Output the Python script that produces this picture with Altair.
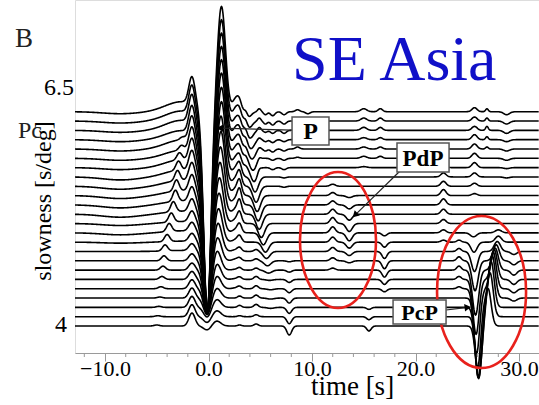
import numpy as np
import pandas as pd
import altair as alt

# Beam slowness of each trace in the vespagram, top to bottom [s/deg]
SLOWNESS = [6.3, 6.2, 6.1, 6.0, 5.9, 5.8, 5.7, 5.6, 5.5, 5.4, 5.3, 5.2,
            5.1, 5.0, 4.9, 4.8, 4.7, 4.6, 4.5, 4.4, 4.3, 4.2, 4.1, 4.0]

# Time window of the section [s]
T_MIN, T_MAX = -12.9, 31.93
# Amplitude of one count in slowness units (trace gain)
GAIN = 0.01073

# Arrivals picked on each beam: centre time [s], half-width [s], amplitude per trace (counts)
PHASES = [
    # long-period sag before the onset
    {"t": -8.5, "w": 2.5, "amp": [-2, -2, -2, -2, -2, -2, -2, -3, -3, -3, -3, -3, -2, -2, -1, 0, 0, 0, 0, 0, 0, 0, 0, 0]},
    # emergent rise ahead of P
    {"t": -2.6, "w": 2.2, "amp": [10, 10, 10, 9, 9, 8, 8, 7, 6, 5, 4, 3, 2, 2, 1, 1, 0, 0, 0, 0, 0, 0, 0, 0]},
    # precursor with moveout
    {"t": [-1.9, -2.0, -2.1, -2.3, -2.5, -2.6, -2.8, -2.9, -3.0, -3.1, -3.2, -3.4,
           -3.6, -3.8, -4.0, -4.2, -4.3, -4.4, -4.5, -4.6, -4.7, -4.8, -4.9, -5.0],
     "w": 0.35, "amp": [0, 0, 0, 0, 3, 5, 7, 9, 10, 11, 11, 10, 9, 8, 7, 6, 5, 4, 3, 2, 1, 1, 1, 1]},
    # P: first swing
    {"t": -1.6, "w": 0.42, "amp": [27, 28, 28, 27, 26, 25, 23, 21, 19, 17, 15, 13, 11, 9, 8, 7, 7, 7, 8, 9, 10, 11, 12, 13]},
    # P: trough
    {"t": -0.12, "w": 0.5, "amp": [-203, -194, -185, -175, -166, -157, -147, -138, -129, -119, -110, -101,
                                   -92, -82, -73, -64, -54, -45, -36, -26, -17, -10, -6, -4]},
    # P: main peak
    {"t": [1.25, 1.25, 1.25, 1.25, 1.25, 1.25, 1.25, 1.25, 1.2, 1.2, 1.15, 1.1,
           1.05, 1.0, 0.95, 0.9, 0.85, 0.8, 0.8, 0.8, 0.8, 0.8, 0.8, 0.8],
     "w": 0.55, "amp": [105, 101, 97, 93, 89, 85, 80, 75, 70, 64, 58, 52, 46, 40, 34, 29, 24, 20, 16, 13, 10, 8, 6, 5]},
    # P coda
    {"t": 2.7, "w": 0.5, "amp": [14, 14, 13, 13, 12, 12, 11, 10, 9, 8, 7, 6, 5, 4, 3, 2, 2, 1, 1, 1, 0, 0, 0, 0]},
    {"t": 3.0, "w": 0.28, "amp": [4, 4, 4, 4, 5, 5, 6, 8, 10, 11, 12, 11, 9, 7, 5, 3, 2, 2, 2, 2, 2, 2, 1, 1]},
    {"t": 3.6, "w": 0.25, "amp": [5, 5, 4, 4, 3, 3, 2, 0, 0, 0, 0, 0, 0, 0, 0, 0, 0, 0, 0, 0, 0, 0, 0, 0]},
    {"t": [3.8, 3.9, 4.0, 4.1, 4.2, 4.3, 4.4, 4.5, 4.6, 4.7, 4.8, 4.9,
           5.1, 5.3, 5.5, 5.6, 5.7, 5.8, 5.9, 6.0, 6.0, 6.0, 6.0, 6.0],
     "w": 0.45, "amp": [-6, -7, -8, -9, -10, -12, -14, -15, -16, -16, -16, -15, -14, -12, -10, -7, -5, -3, -1, -1, -1, -1, 0, 0]},
    {"t": 4.6, "w": 0.3, "amp": [0, 0, 0, 0, 0, 0, 0, 0, 0, 0, 0, 0, 0, 0, 0, 2, 2, 2, 3, 3, 3, 3, 2, 2]},
    {"t": 4.9, "w": 0.22, "amp": [3, 3, 3, 2, 2, 2, 2, 0, 0, 0, 0, 0, 0, 0, 0, 0, 0, 0, 0, 0, 0, 0, 0, 0]},
    {"t": 5.5, "w": 0.25, "amp": [-3, -3, -2, -2, -2, 0, 0, 0, 0, 0, 0, 0, 0, 0, 0, 0, 0, 0, 0, 0, 0, 0, 0, 0]},
    {"t": 6.2, "w": 0.3, "amp": [-4, -4, -3, -3, -3, -2, -2, 0, 0, 0, 0, 0, 0, 0, 0, 0, 0, 0, 0, 0, 0, 0, 0, 0]},
    {"t": 7.3, "w": 0.3, "amp": [-3, -3, -3, -2, -2, -2, -2, -1, -1, 0, 0, 0, 0, 0, 0, 0, 0, 0, 0, 0, 0, 0, 0, 0]},
    {"t": 7.8, "w": 0.33, "amp": [0, 0, 0, 0, 0, 0, 0, 0, 0, 0, 0, 0, 0, 0, 0, 0, -1, -2, -3, -4, -5, -6, -7, -9]},
    {"t": 8.6, "w": 0.3, "amp": [2, 2, 2, 2, 2, 1, 0, 0, 0, 0, 0, 0, 0, 0, 0, 0, 0, 0, 0, 0, 0, 0, 0, 0]},
    {"t": 9.6, "w": 0.3, "amp": [-2, -2, -2, -1, 0, 0, 0, 0, 0, 0, 0, 0, 0, 0, 0, 0, 0, 0, 0, 0, 0, 0, 0, 0]},
    # PdP
    {"t": 12.0, "w": 0.35, "amp": [0, 0, 0, 0, 0, 0, 0, 0, 2, 3, 4, 5, 6, 6, 5, 4, 3, 2, 0, 0, 0, 0, 0, 0]},
    {"t": 13.6, "w": 0.4, "amp": [0, 0, 0, 0, 0, 0, 0, 0, 0, -2, -4, -6, -8, -8, -6, -4, -2, 0, 0, 0, 0, 0, 0, 0]},
    {"t": 15.0, "w": 0.4, "amp": [3, 3, 3, 2, 2, 2, 1, 0, 0, 0, 0, 0, 0, 0, 0, 0, 0, 0, 0, 0, 0, 0, 0, 0]},
    {"t": 15.5, "w": 0.3, "amp": [0, 0, 0, 0, 0, 0, 0, 0, 0, 0, 0, 0, 0, 0, 0, 0, 0, 0, 0, 0, 0, -2, -3, -5]},
    {"t": 16.6, "w": 0.3, "amp": [3, 3, 3, 2, 2, 2, 0, 0, 0, 0, 0, 0, 0, 0, 0, 0, 0, 0, 0, 0, 0, 0, 0, 0]},
    {"t": 17.0, "w": 0.33, "amp": [0, 0, 0, 0, 0, 0, 0, 0, 0, 0, 0, 0, 0, -3, -5, -7, -8, -7, -5, -3, 0, 0, 0, 0]},
    {"t": 22.7, "w": 0.35, "amp": [0, 0, 0, 0, 0, 2, 3, 4, 5, 6, 6, 5, 4, 3, 2, 0, 0, 0, 0, 0, 0, 0, 0, 0]},
    {"t": 24.2, "w": 0.3, "amp": [0, 0, 0, 0, 0, 0, 0, 0, 0, 0, 0, 0, 0, 0, 2, 3, 4, 4, 3, 2, 0, 0, 0, 0]},
    {"t": 25.7, "w": 0.35, "amp": [4, 4, 4, 5, 5, 5, 5, 4, 3, 2, 0, 0, 0, 0, 0, 0, 0, 0, 0, 0, 0, 0, 0, 0]},
    {"t": 26.9, "w": 0.18, "amp": [3, 3, 4, 3, 2, 0, 0, 0, 0, 0, 0, 0, 0, 0, 0, 0, 0, 0, 0, 0, 0, 0, 0, 0]},
    {"t": 28.8, "w": 0.4, "amp": [-3, -3, -3, -2, -2, -2, -1, -1, 0, 0, 0, 0, 0, 0, 0, 0, 0, 0, 0, 0, 0, 0, 0, 0]},
    # PcP
    {"t": [25.6, 25.6, 25.6, 25.6, 25.6, 25.6, 25.6, 25.6, 25.6, 25.6, 25.6, 25.6,
           25.6, 25.6, 25.65, 25.7, 25.75, 25.8, 25.85, 25.9, 26.0, 26.05, 26.1, 26.1],
     "w": 0.42, "amp": [0, 0, 0, 0, 0, 0, 0, 0, 0, 0, 0, 0, 0, -4, -10, -20, -30, -45, -55, -65, -70, -70, -62, -52]},
    {"t": [28.0, 28.0, 28.0, 28.0, 28.0, 28.0, 28.0, 28.0, 28.0, 28.0, 28.0, 28.0,
           28.0, 28.0, 28.0, 27.9, 27.8, 27.7, 27.6, 27.5, 27.4, 27.3, 27.2, 27.0],
     "w": 0.42, "amp": [0, 0, 0, 0, 0, 0, 0, 0, 0, 0, 0, 0, 0, 3, 6, 10, 16, 22, 30, 37, 43, 46, 44, 38]},
    {"t": 29.5, "w": 0.4, "amp": [0, 0, 0, 0, 0, 0, 0, 0, 0, 0, 0, 0, 0, 0, 0, -3, -4, -5, -5, -4, -3, 0, 0, 0]},
]

# Labelled and minor tick values of the time axis [s]
TIME_MAJOR = [-10, 0, 10, 20, 30]
TIME_MINOR = [-12, -8, -6, -4, -2, 2, 4, 6, 8, 12, 14, 16, 18, 22, 24, 26, 28]

# Phase labels with their boxes and arrows (time [s], slowness [s/deg])
LABELS = pd.DataFrame({
    "name": ["P", "PdP", "PcP"],
    "t": [9.86, 20.72, 20.39], "s": [6.093, 5.808, 4.150],
    "t0": [8.07, 18.21, 17.83], "t1": [11.64, 23.24, 22.95],
    "s0": [5.943, 5.653, 4.021], "s1": [6.243, 5.964, 4.279],
    "size": [24, 23, 22],
})
ARROWS = pd.DataFrame({
    "t_from": [8.07, 18.6, 22.95], "s_from": [6.103, 5.674, 4.172],
    "t_to": [1.1, 14.15, 25.05], "s_to": [6.124, 5.19, 4.2],
    "ang": [271.5, 225.6, 82.9],
})
CIRCLED = {"PdP": (12.51, 4.923), "PcP": (26.38, 4.365)}

# Build the traces
time = np.arange(T_MIN, T_MAX + 1e-9, 0.05)
frames = []
for k, s in enumerate(SLOWNESS):
    trace = np.zeros_like(time)
    for ph in PHASES:
        a = ph["amp"][k]
        if a == 0:
            continue
        t0 = ph["t"][k] if isinstance(ph["t"], list) else ph["t"]
        trace += a * np.exp(-((time - t0) / ph["w"]) ** 2)
    frames.append(pd.DataFrame({"time": time, "value": s + GAIN * trace, "trace": k}))
traces = pd.concat(frames, ignore_index=True)

SERIF = "Liberation Serif"
AXIS_GREY = "#9a9a9a"
xs = alt.Scale(domain=[T_MIN, T_MAX], nice=False, zero=False)
ys = alt.Scale(domain=[3.7102, 7.499], nice=False, zero=False)

x_axis = alt.Axis(
    values=TIME_MAJOR, format=".1f",
    labelOverlap=False, labelFlush=False, grid=False,
    tickSize=8, tickColor=AXIS_GREY, domainColor=AXIS_GREY,
    labelFont=SERIF, labelFontSize=22, labelColor="black", labelPadding=-3,
    title="time [s]", titleFont=SERIF, titleFontSize=27, titleFontWeight="normal",
    titleColor="black", titleX=277, titleY=41, titleAlign="center",
    titleBaseline="alphabetic",
)

lines = alt.Chart(traces).mark_line(color="black", strokeWidth=1.6, strokeJoin="round").encode(
    x=alt.X("time:Q", scale=xs, axis=x_axis),
    y=alt.Y("value:Q", scale=ys, axis=None),
    detail="trace:N",
)

minor = alt.Chart(pd.DataFrame({"t": TIME_MINOR})).mark_rule(color=AXIS_GREY, strokeWidth=1).encode(
    x=alt.X("t:Q", scale=xs), y=alt.value(353), y2=alt.value(357)
)

def ellipse(name, rx, ry):
    t, s = CIRCLED[name]
    r = rx / ry
    path = f"M {-r} 0 A {r} 1 0 1 1 {r} 0 A {r} 1 0 1 1 {-r} 0 Z"
    return alt.Chart(pd.DataFrame({"t": [t], "s": [s]})).mark_point(
        shape=path, size=(2 * ry) ** 2, filled=False, color="#e8211c", strokeWidth=2.6, opacity=1
    ).encode(x=alt.X("t:Q", scale=xs), y=alt.Y("s:Q", scale=ys, axis=None))

ell1 = ellipse("PdP", 38, 68)
ell2 = ellipse("PcP", 44.5, 76)

arrow_lines = alt.Chart(ARROWS).mark_rule(color="#222", strokeWidth=1.2).encode(
    x=alt.X("t_from:Q", scale=xs), y=alt.Y("s_from:Q", scale=ys, axis=None),
    x2="t_to:Q", y2="s_to:Q",
)
arrow_heads = alt.Chart(ARROWS).mark_point(shape="triangle-up", filled=True, color="black", size=55, opacity=1).encode(
    x=alt.X("t_to:Q", scale=xs), y=alt.Y("s_to:Q", scale=ys, axis=None),
    angle=alt.Angle("ang:Q", scale=None),
)

boxes = alt.Chart(LABELS).mark_rect(fill="white", stroke="#555", strokeWidth=1.5).encode(
    x=alt.X("t0:Q", scale=xs), x2="t1:Q",
    y=alt.Y("s0:Q", scale=ys, axis=None), y2="s1:Q",
)
box_text = alt.Chart(LABELS).mark_text(font=SERIF, fontWeight="bold", color="black", baseline="middle", dy=1).encode(
    x=alt.X("t:Q", scale=xs), y=alt.Y("s:Q", scale=ys, axis=None),
    text="name:N", size=alt.Size("size:Q", scale=None),
)

region = alt.Chart(pd.DataFrame({"t": [8.07], "s": [6.64], "txt": ["SE Asia"]})).mark_text(
    font=SERIF, fontSize=64, color="#1010c8", align="left", baseline="alphabetic"
).encode(x=alt.X("t:Q", scale=xs), y=alt.Y("s:Q", scale=ys, axis=None), text="txt:N")

# Slowness range labels at the ends of the section
slow_hi = alt.Chart(pd.DataFrame({"s": [6.5], "txt": ["6.5"]})).mark_text(
    font=SERIF, fontSize=24, color="black", align="right", baseline="middle", dy=-5
).encode(x=alt.value(-1), y=alt.Y("s:Q", scale=ys, axis=None), text="txt:N")
slow_lo = alt.Chart(pd.DataFrame({"s": [4.0], "txt": ["4"]})).mark_text(
    font=SERIF, fontSize=24, color="black", align="right", baseline="middle", dy=-1
).encode(x=alt.value(-8), y=alt.Y("s:Q", scale=ys, axis=None), text="txt:N")

y_title = alt.Chart(pd.DataFrame({"txt": ["slowness [s/deg]"]})).mark_text(
    font=SERIF, fontSize=24, color="black", angle=270, align="center", baseline="middle"
).encode(x=alt.value(-31), y=alt.value(201), text="txt:N")

panel = alt.Chart(pd.DataFrame({"txt": ["B", "Pc"], "px": [-60, -57], "py": [47, 138], "fs": [27, 24]})).mark_text(
    font=SERIF, color="#222", align="left", baseline="alphabetic"
).encode(x=alt.X("px:Q", scale=None), y=alt.Y("py:Q", scale=None), text="txt:N",
         size=alt.Size("fs:Q", scale=None))

chart = alt.layer(
    lines, minor, ell1, ell2, arrow_lines, arrow_heads, boxes, box_text,
    region, slow_hi, slow_lo, y_title, panel,
).properties(
    width=464, height=353,
    autosize=alt.AutoSizeParams(type="none"),
    padding={"left": 75, "top": 0, "right": 0, "bottom": 52},
).configure_view(stroke=None).configure(background="white")

chart.save("out.html", embed_options={"renderer": "svg", "actions": False})
